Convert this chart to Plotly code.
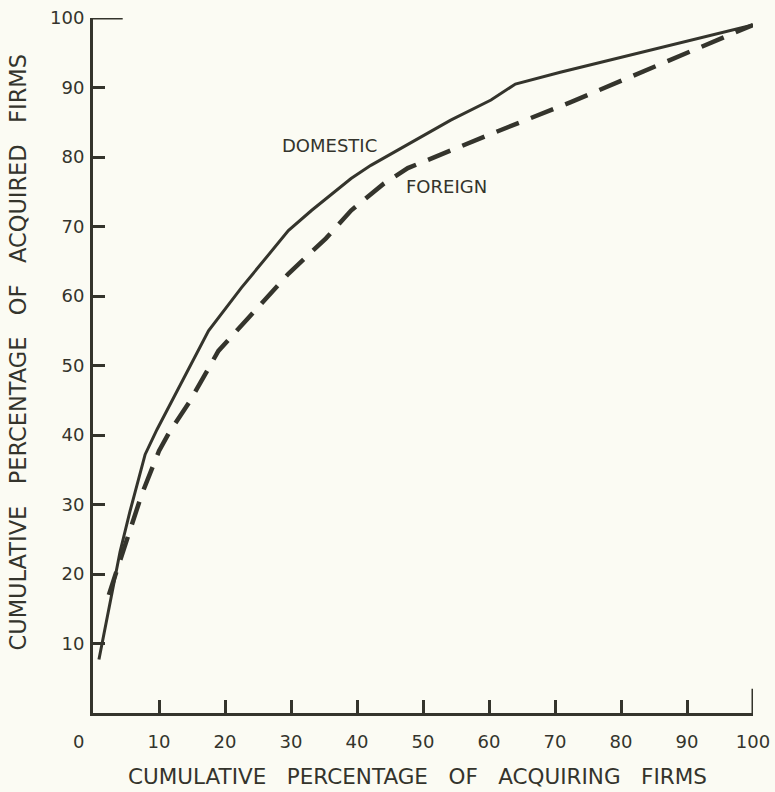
import plotly.graph_objects as go

# Cumulative percentage of acquiring firms (x) vs acquired firms (y)
domestic_x = [0.9, 4.1, 5.6, 7.9, 9.7, 13.4, 17.5, 22.5, 29.6, 33.1, 39.1, 42.1, 54.2, 60.3, 64.0, 70.8, 100.0]
domestic_y = [7.7, 23.2, 29.0, 37.2, 40.8, 47.5, 55.0, 61.2, 69.4, 72.3, 76.9, 78.8, 85.3, 88.2, 90.5, 92.2, 99.0]

foreign_x = [2.4, 5.1, 7.4, 10.0, 11.5, 14.7, 19.0, 23.6, 29.6, 35.3, 39.1, 44.1, 47.7, 60.0, 72.4, 100.0]
foreign_y = [17.0, 24.7, 31.5, 37.7, 40.3, 44.9, 52.1, 56.9, 63.2, 68.3, 72.3, 76.2, 78.4, 83.2, 87.9, 99.0]

tick_vals = [10, 20, 30, 40, 50, 60, 70, 80, 90, 100]
tick_text = ["10", "20", "30", "40", "50", "60", "70", "80", "90", "100"]

x_title = "CUMULATIVE   PERCENTAGE   OF   ACQUIRING   FIRMS"
y_title = "CUMULATIVE   PERCENTAGE   OF   ACQUIRED   FIRMS"

INK = "#34342c"
BG = "#fbfbf3"
FONT = "DejaVu Sans"

fig = go.Figure()
fig.add_trace(go.Scatter(x=domestic_x, y=domestic_y, mode="lines",
                         line=dict(color=INK, width=3), name="DOMESTIC",
                         hoverinfo="skip"))
fig.add_trace(go.Scatter(x=foreign_x, y=foreign_y, mode="lines",
                         line=dict(color=INK, width=4.5, dash="24px,13px"),
                         name="FOREIGN", hoverinfo="skip"))

fig.update_layout(
    width=775, height=792, autosize=False,
    margin=dict(l=93, r=22, t=18, b=79, autoexpand=False),
    paper_bgcolor=BG, plot_bgcolor=BG,
    showlegend=False,
    font=dict(family=FONT, color=INK),
    xaxis=dict(range=[0, 100], showgrid=False, zeroline=False, automargin=False,
               showline=True, linecolor=INK, linewidth=3,
               tickmode="array", tickvals=tick_vals, ticktext=tick_text,
               ticks="inside", ticklen=13, tickwidth=3, tickcolor=INK,
               tickfont=dict(size=18, family=FONT, color=INK),
               ticklabelstandoff=10),
    yaxis=dict(range=[0, 100], showgrid=False, zeroline=False, automargin=False,
               showline=True, linecolor=INK, linewidth=3,
               tickmode="array", tickvals=tick_vals, ticktext=tick_text,
               ticks="inside", ticklen=12, tickwidth=3, tickcolor=INK,
               tickfont=dict(size=18, family=FONT, color=INK),
               ticklabelstandoff=2),
)

# longer frame ends at the top of the y axis and the right of the x axis
fig.add_shape(type="line", xref="x", yref="y", x0=0, x1=4.5, y0=100, y1=100,
              line=dict(color=INK, width=3))
fig.add_shape(type="line", xref="x", yref="y", x0=100, x1=100, y0=0, y1=3.5,
              line=dict(color=INK, width=3))

anns = [
    dict(text="0", x=0, y=0, xref="x", yref="y", xshift=-15, yshift=-28,
         showarrow=False, font=dict(size=18, family=FONT, color=INK)),
    dict(text="DOMESTIC", x=35.8, y=81.7, xref="x", yref="y", showarrow=False,
         font=dict(size=18, family=FONT, color=INK)),
    dict(text="FOREIGN", x=53.6, y=75.8, xref="x", yref="y", showarrow=False,
         font=dict(size=18, family=FONT, color=INK)),
    dict(text=x_title, x=0.5, y=0, xref="paper", yref="paper", xshift=-6,
         yshift=-63, showarrow=False, yanchor="middle",
         font=dict(size=21.5, family=FONT, color=INK)),
    dict(text=y_title, x=0, y=0.5, xref="paper", yref="paper", xshift=-76,
         yshift=13, textangle=-90, showarrow=False, xanchor="center",
         font=dict(size=22.5, family=FONT, color=INK)),
]
fig.update_layout(annotations=anns)

fig.write_html("out.html", post_script="document.body.style.margin='0px';",
               config={"displayModeBar": False, "staticPlot": True})
